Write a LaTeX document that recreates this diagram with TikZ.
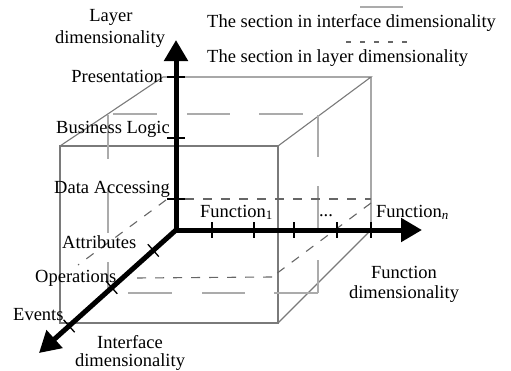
\documentclass[tikz,border=0pt]{standalone}
\usepackage{fontspec}
\setmainfont{Liberation Serif}
\usetikzlibrary{arrows.meta}
\definecolor{cubegray}{HTML}{7A7A7A}
\definecolor{secgray}{HTML}{ABABAB}
\definecolor{dashgray}{HTML}{666666}
\tikzset{
  lbl/.style={inner sep=0pt, font=\fontsize{18.5}{21}\selectfont},
  cubeline/.style={draw=cubegray, line width=1.1pt},
  isec/.style={draw=secgray, line width=1.1pt},
  lsec/.style={draw=dashgray, line width=1.1pt, dash pattern=on 9pt off 9pt},
  axisline/.style={line width=5pt, line cap=rect, -{Triangle[length=21pt,width=23pt]}},
  tickline/.style={line width=1.3pt}
}
\begin{document}
\begin{tikzpicture}[x=1pt,y=-1pt]
\useasboundingbox (0,0) rectangle (511,370);
% cube corners
\coordinate (ftl) at (60,146);
\coordinate (ftr) at (278,146);
\coordinate (fbl) at (60,323);
\coordinate (fbr) at (278,323);
\coordinate (btl) at (163,77);
\coordinate (btr) at (371,77);
\coordinate (bbr) at (371,230);
% cube edges
\draw[cubeline] (ftl) -- (ftr) -- (fbr) -- (fbl) -- cycle;
\draw[cubeline] (ftl) -- (btl) -- (btr) -- (ftr);
\draw[cubeline] (btr) -- (bbr) -- (fbr);
% section in interface dimensionality (solid light gray, long dashes)
\draw[isec] (113,114) -- (157,114) (187,114) -- (230,114) (259,114) -- (303,114);
\draw[isec] (318,115) -- (318,157) (318,186) -- (318,230) (318,260) -- (318,293);
\draw[isec] (128,293) -- (172,293) (202,293) -- (245,293) (274,293) -- (318,293);
\draw[isec] (108,115) -- (108,159) (108,188) -- (108,233) (108,262) -- (108,288);
% section in layer dimensionality (dashed)
\coordinate (lbl1) at (167,199);
\coordinate (lbr1) at (371,199);
\coordinate (lfr1) at (272,277);
\coordinate (lfl1) at (135,278);
\draw[lsec] (lbl1) -- (lbr1);
\draw[lsec] (371,203) -- (lfr1);
\draw[lsec] (lfr1) -- (lfl1);
\draw[lsec] (166,200) -- (78,265);
% axes
\coordinate (o) at (176,230);
\coordinate (ytip) at (176,40);
\coordinate (xtip) at (422,230);
\coordinate (ztip) at (39,353);
\draw[axisline] (o) -- (ytip);
\draw[axisline] (o) -- (xtip);
\draw[axisline] (o) -- (ztip);
% ticks
\foreach \yy in {77,138,199} \draw[tickline] (167,\yy) -- (185,\yy);
\foreach \xx in {212,254,294,337,371} \draw[tickline] (\xx,222) -- (\xx,238);
\foreach \px/\py in {153.3/250.4, 111.8/287.6, 69.1/326} \draw[tickline] (\px-5.5,\py-6.2) -- (\px+5.5,\py+6.2);
% legend
\coordinate (leg1a) at (360,7);
\coordinate (leg1b) at (403,7);
\coordinate (leg2a) at (346,42);
\coordinate (leg2b) at (407,42);
\draw[isec] (leg1a) -- (leg1b);
\draw[draw=dashgray, line width=1.1pt, dash pattern=on 5pt off 9pt] (leg2a) -- (leg2b);
\node[lbl, anchor=base west] (legt1) at (207,27) {The section in interface dimensionality};
\node[lbl, anchor=base west] (legt2) at (207,62) {The section in layer dimensionality};
% labels
\node[lbl, anchor=base] (layA) at (111,21) {Layer};
\node[lbl, anchor=base] (layB) at (110,43) {dimensionality};
\node[lbl, anchor=base east] (pres) at (163,82) {Presentation};
\node[lbl, anchor=base east] (busl) at (170,133) {Business Logic};
\node[lbl, anchor=base east] (data) at (170,193) {Data Accessing};
\node[lbl, anchor=base west] (attr) at (62,248) {Attributes};
\node[lbl, anchor=base west] (oper) at (35,282) {Operations};
\node[lbl, anchor=base west] (evts) at (13,320) {Events};
\node[lbl, anchor=base] (intA) at (130,348) {Interface};
\node[lbl, anchor=base] (intB) at (130,366) {dimensionality};
\node[lbl, anchor=base west] (f1) at (200,217) {Function\textsubscript{1}};
\node[lbl, anchor=base] (dots) at (326,216) {...};
\node[lbl, anchor=base west] (fn) at (376,217) {Function\textsubscript{\textit{n}}};
\node[lbl, anchor=base] (funA) at (404,278) {Function};
\node[lbl, anchor=base] (funB) at (404,298) {dimensionality};
\end{tikzpicture}
\end{document}
